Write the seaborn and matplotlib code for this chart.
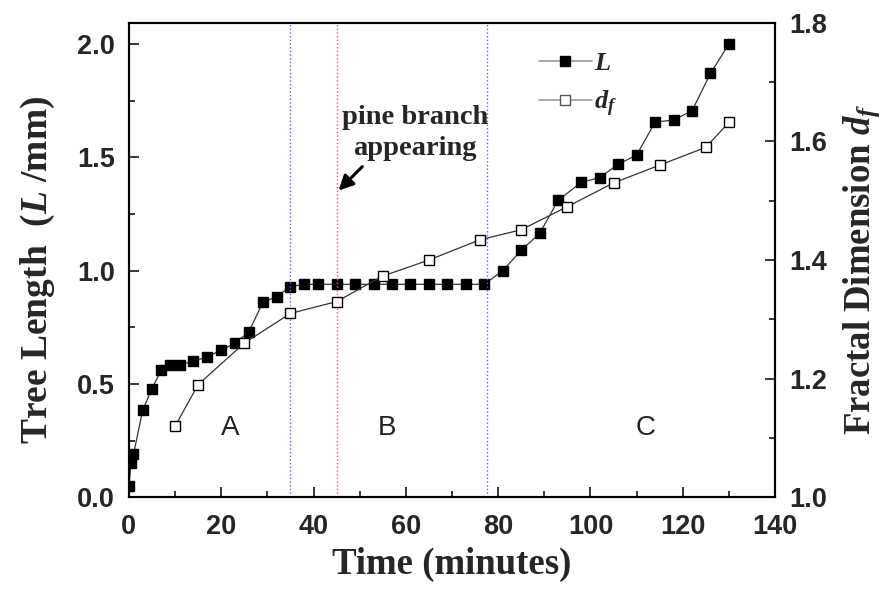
import numpy as np
import pandas as pd
import matplotlib
matplotlib.use("Agg")
import matplotlib.pyplot as plt
import seaborn as sns
from matplotlib.ticker import MultipleLocator
from matplotlib.lines import Line2D

# ---- data ----
time_L = [0, 0.5, 1, 3, 5, 7, 9, 11, 14, 17, 20, 23, 26, 29, 32, 35, 38, 41,
          45, 49, 53, 57, 61, 65, 69, 73, 77, 81, 85, 89, 93, 98, 102, 106,
          110, 114, 118, 122, 126, 130]
tree_length = [0.05, 0.15, 0.19, 0.385, 0.48, 0.56, 0.585, 0.585, 0.60, 0.62,
               0.65, 0.68, 0.73, 0.86, 0.885, 0.93, 0.94, 0.94,
               0.94, 0.94, 0.94, 0.94, 0.94, 0.94, 0.94, 0.94, 0.94, 1.0,
               1.09, 1.165, 1.31, 1.39, 1.41, 1.47, 1.51, 1.655, 1.665,
               1.705, 1.87, 2.0]
time_df = [10, 15, 25, 35, 45, 55, 65, 76, 85, 95, 105, 115, 125, 130]
fractal_dim = [1.12, 1.19, 1.26, 1.31, 1.33, 1.373, 1.40, 1.434, 1.451,
               1.49, 1.53, 1.56, 1.59, 1.632]
phase_bounds = [34.8, 77.6]
pine_time = 45
phase_labels = ["A", "B", "C"]
phase_label_x = [22, 56, 112]
x_ticks = [0, 20, 40, 60, 80, 100, 120, 140]
yL_ticks = [0.0, 0.5, 1.0, 1.5, 2.0]
yD_ticks = [1.0, 1.2, 1.4, 1.6, 1.8]

df_L = pd.DataFrame({"t": time_L, "L": tree_length})
df_d = pd.DataFrame({"t": time_df, "d": fractal_dim})

sns.set_style("ticks")
plt.rcParams["font.family"] = ["Liberation Sans", "DejaVu Sans"]
plt.rcParams["mathtext.fontset"] = "custom"
plt.rcParams["mathtext.rm"] = "Liberation Serif:bold"
plt.rcParams["mathtext.it"] = "Liberation Serif:italic:bold"
plt.rcParams["mathtext.bf"] = "Liberation Serif:bold"

fig = plt.figure(figsize=(8.95, 5.90), dpi=100)
ax = fig.add_axes([0.144, 0.157, 0.722, 0.8045])
ax2 = ax.twinx()

line_kw = dict(color="#333333", linewidth=0.9, markersize=7.2,
               markeredgecolor="black", markeredgewidth=1.0)
sns.lineplot(data=df_L, x="t", y="L", ax=ax, marker="s", markerfacecolor="black",
             estimator=None, sort=False, legend=False, **line_kw)
sns.lineplot(data=df_d, x="t", y="d", ax=ax2, marker="s", markerfacecolor="white",
             estimator=None, sort=False, legend=False, **line_kw)

for xb in phase_bounds:
    ax.axvline(xb, color="#6060ff", linestyle=":", linewidth=1.0)
ax.axvline(pine_time, color="#ff5050", linestyle=":", linewidth=1.0)

ax.set_xlim(0, 140)
ax.set_ylim(0, 2.094)
ax2.set_ylim(1.0, 1.8)

ax.xaxis.set_minor_locator(MultipleLocator(10))
ax.yaxis.set_minor_locator(MultipleLocator(0.25))
ax2.yaxis.set_minor_locator(MultipleLocator(0.1))

ax.set_xticks(x_ticks)
ax.set_xticklabels([str(v) for v in x_ticks], fontweight="bold")
ax.set_yticks(yL_ticks)
ax.set_yticklabels([f"{v:.1f}" for v in yL_ticks], fontweight="bold")
ax2.set_yticks(yD_ticks)
ax2.set_yticklabels([f"{v:.1f}" for v in yD_ticks], fontweight="bold")

for a in (ax, ax2):
    for sp in a.spines.values():
        sp.set_visible(True)
        sp.set_linewidth(1.5)
        sp.set_color("black")
ax.tick_params(axis="x", which="major", direction="in", length=7, width=1.3,
               labelsize=19.5, top=False, pad=12)
ax.tick_params(axis="y", which="major", direction="in", length=7, width=1.3,
               labelsize=19.5, right=False, pad=10)
ax.tick_params(axis="both", which="minor", direction="in", length=4, width=1.3,
               top=False, right=False)
ax2.tick_params(axis="y", which="major", direction="in", length=7, width=1.3,
                labelsize=19.5, pad=10)
ax2.tick_params(axis="y", which="minor", direction="in", length=4, width=1.3)

ax.set_xlabel("Time (minutes)", fontsize=26.5, fontweight="bold",
              family="Liberation Serif")
ax.xaxis.set_label_coords(0.5, -0.104)
ax.set_ylabel(r"Tree Length  ($\it{L}$ /mm)", fontsize=27, fontweight="bold",
              family="Liberation Serif")
ax.yaxis.set_label_coords(-0.112, 0.48)
ax2.set_ylabel(r"Fractal Dimension $\it{d_f}$", fontsize=26.5, fontweight="bold",
               family="Liberation Serif")
ax2.yaxis.set_label_coords(1.103, 0.48)

for lab, xl in zip(phase_labels, phase_label_x):
    ax.text(xl, 0.305, lab, fontsize=20, ha="center", va="center", color="#222222")

ax.text(62, 1.607, "pine branch\nappearing", fontsize=20.5, fontweight="bold",
        family="Liberation Serif", ha="center", va="center", linespacing=1.35)
ax.annotate("", xy=(45.0, 1.345), xytext=(51.0, 1.468),
            arrowprops=dict(arrowstyle="-|>", color="black", lw=2.2,
                            mutation_scale=22))

handles = [
    Line2D([], [], color="#999999", linewidth=1.2, marker="s", markersize=7.2,
           markerfacecolor="black", markeredgecolor="black"),
    Line2D([], [], color="#999999", linewidth=1.2, marker="s", markersize=7.2,
           markerfacecolor="white", markeredgecolor="#555555"),
]
ax.legend(handles, [r"$\it{L}$", r"$\it{d_f}$"], loc="upper left",
          bbox_to_anchor=(0.598, 0.99), frameon=False, fontsize=19,
          handlelength=2.0, labelspacing=0.5, handletextpad=0.1)

fig.savefig("out.png", dpi=100, facecolor="white")
